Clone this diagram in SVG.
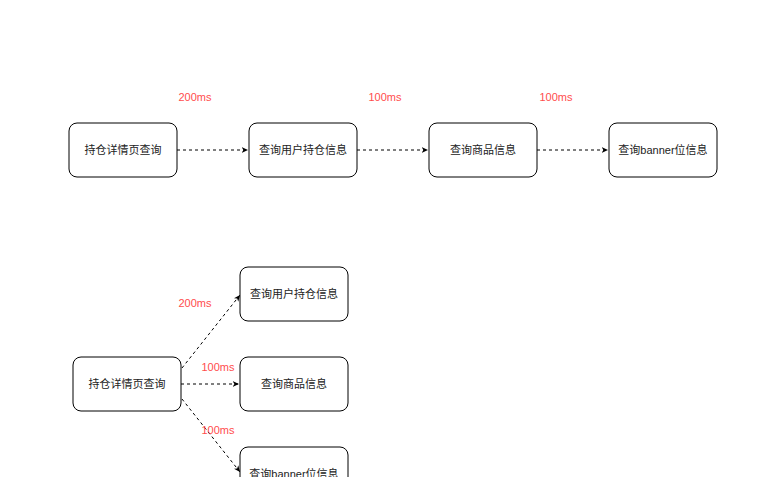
<svg xmlns="http://www.w3.org/2000/svg" width="771" height="477" viewBox="0 0 771 477">
<defs>
<marker id="ah" viewBox="0 0 10 10" refX="9" refY="5" markerWidth="7" markerHeight="7" orient="auto" markerUnits="userSpaceOnUse">
<path d="M0,1 L9,5 L0,9 L2.5,5 Z" fill="#000"/>
</marker>
<style>
.box{fill:#fff;stroke:#000;stroke-width:1}
.t{font-family:"Liberation Sans","Noto Sans CJK SC",sans-serif;font-size:11px;fill:#222;text-anchor:middle;dominant-baseline:central}
.lbl{font-family:"Liberation Sans","Noto Sans CJK SC",sans-serif;font-size:11px;fill:#ff4d4d;text-anchor:middle;dominant-baseline:central}
.c{fill:none;stroke:#000;stroke-width:1;stroke-dasharray:3 3;marker-end:url(#ah)}
</style>
</defs>
<rect width="771" height="477" fill="#fff"/>
<g id="connectors">
<line class="c" x1="177" y1="150" x2="248" y2="150"/>
<line class="c" x1="357" y1="150" x2="428" y2="150"/>
<line class="c" x1="537" y1="150" x2="608" y2="150"/>
<line class="c" x1="182" y1="368" x2="240" y2="295"/>
<line class="c" x1="181" y1="384" x2="239" y2="384"/>
<line class="c" x1="182" y1="399" x2="240" y2="472"/>
</g>
<g id="labels">
<text class="lbl" x="195" y="97">200ms</text>
<text class="lbl" x="385" y="97">100ms</text>
<text class="lbl" x="556" y="97">100ms</text>
<text class="lbl" x="195" y="303">200ms</text>
<text class="lbl" x="218" y="367">100ms</text>
<text class="lbl" x="218" y="430">100ms</text>
</g>
<g id="n1"><rect class="box" x="69" y="123" width="108" height="54" rx="8"/><text class="t" x="123" y="150">持仓详情页查询</text></g>
<g id="n2"><rect class="box" x="249" y="123" width="108" height="54" rx="8"/><text class="t" x="303" y="150">查询用户持仓信息</text></g>
<g id="n3"><rect class="box" x="429" y="123" width="108" height="54" rx="8"/><text class="t" x="483" y="150">查询商品信息</text></g>
<g id="n4"><rect class="box" x="609" y="123" width="108" height="54" rx="8"/><text class="t" x="663" y="150">查询banner位信息</text></g>
<g id="m1"><rect class="box" x="73" y="357" width="108" height="54" rx="8"/><text class="t" x="127" y="384">持仓详情页查询</text></g>
<g id="m2"><rect class="box" x="240" y="267" width="108" height="54" rx="8"/><text class="t" x="294" y="294">查询用户持仓信息</text></g>
<g id="m3"><rect class="box" x="240" y="357" width="108" height="54" rx="8"/><text class="t" x="294" y="384">查询商品信息</text></g>
<g id="m4"><rect class="box" x="240" y="447" width="108" height="54" rx="8"/><text class="t" x="294" y="474">查询banner位信息</text></g>
</svg>
